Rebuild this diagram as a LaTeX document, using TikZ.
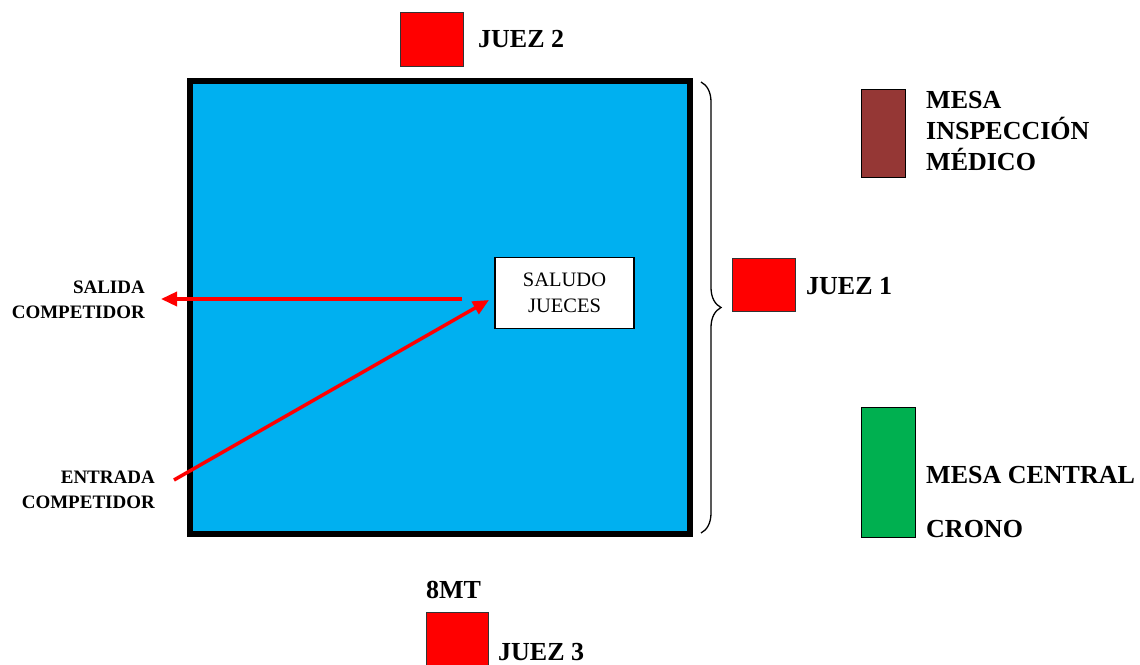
\documentclass[tikz,border=0pt]{standalone}
\usepackage{fontspec}
\setmainfont{Liberation Serif}
\usetikzlibrary{arrows.meta,decorations.pathreplacing}
\definecolor{pool}{HTML}{00B0F0}
\definecolor{judge}{HTML}{FF0000}
\definecolor{medic}{HTML}{953735}
\definecolor{central}{HTML}{00B050}
\begin{document}
\begin{tikzpicture}[x=1pt,y=-1pt,
  judgebox/.style={draw=black!80,line width=1pt,fill=judge},
  lbl/.style={font=\fontsize{26}{31}\selectfont\bfseries,inner sep=0pt,anchor=base west},
  sidelbl/.style={font=\fontsize{19}{25}\selectfont\bfseries,inner sep=0pt,align=right,anchor=base east},
  redarrow/.style={draw=judge,line width=3.5pt,-{Triangle[length=16pt,width=14pt]}}]
\useasboundingbox (0,0) rectangle (1140,664);
% area
\draw[line width=6pt,fill=pool] (190,81) rectangle (690,534);
% judges
\draw[judgebox] (400,12) rectangle (463,66);
\node[lbl] (j2) at (478,47) {JUEZ 2};
\draw[judgebox] (732,258) rectangle (795,311);
\node[lbl] (j1) at (806,294) {JUEZ 1};
\draw[judgebox] (426,612) rectangle (488,670);
\node[lbl] (j3) at (498,660) {JUEZ 3};
\node[lbl] (mt) at (426,598) {8MT};
% tables
\draw[line width=1pt,fill=medic] (861,89) rectangle (905,177);
\node[lbl,align=left] (med) at (926,170) {MESA\\INSPECCIÓN\\MÉDICO};
\draw[line width=1pt,fill=central] (861,407) rectangle (915,537);
\node[lbl] (mc) at (926,483) {MESA CENTRAL};
\node[lbl] (cr) at (926,537) {CRONO};
% brace
\draw[line width=1.3pt,decorate,decoration={brace,amplitude=20pt}] (701,82) -- (701,533);
% saludo
\node[draw,line width=1.5pt,fill=white,minimum width=139pt,minimum height=71pt,inner sep=0pt,
  align=center,font=\fontsize{20.5}{26}\selectfont] (sal) at (564.5,293) {SALUDO\\JUECES};
% side labels
\node[sidelbl] (sl) at (145,318) {SALIDA\\COMPETIDOR};
\node[sidelbl] (el) at (155,508) {ENTRADA\\COMPETIDOR};
% arrows
\coordinate (s0) at (462,299);
\coordinate (s1) at (161,299);
\coordinate (e0) at (174,480);
\coordinate (e1) at (489,300);
\draw[redarrow] (s0) -- (s1);
\draw[redarrow] (e0) -- (e1);
\end{tikzpicture}
\end{document}
